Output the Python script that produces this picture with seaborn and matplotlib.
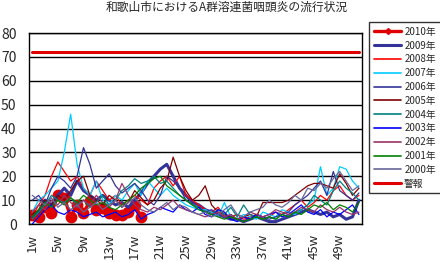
import numpy as np
import matplotlib
matplotlib.use("Agg")
import matplotlib.pyplot as plt
import seaborn as sns
from matplotlib.lines import Line2D

# Weekly report counts per sentinel, Wakayama city
weeks = list(range(1, 53))
tick_weeks = list(range(1, 53, 4))
tick_labels = [f"{w}w" for w in tick_weeks]

y2010 = [3.7, 3, 7, 4.7, 12, 11, 3, 8, 4.7, 9.5, 6, 6.5, 4.5, 3.7, 3.7, 5, 8, 3]
y2009 = [3, 5, 10, 8, 12, 15, 12, 18, 14, 12, 10, 12, 10, 8, 9, 7, 10, 13, 17, 20,
         23, 25, 20, 15, 12, 9, 8, 6, 5, 4, 3, 2, 2, 1, 2, 3, 2, 1, 1, 2,
         3, 4, 5, 6, 5, 4, 5, 3, 4, 2, 3, 10]
y2008 = [3, 8, 12, 20, 26, 22, 18, 20, 15, 12, 18, 14, 10, 12, 8, 10, 12, 10, 8, 15,
         18, 20, 16, 20, 12, 10, 8, 6, 5, 7, 4, 3, 4, 2, 3, 4, 2, 3, 5, 4,
         6, 8, 10, 7, 9, 12, 10, 14, 16, 12, 10, 12]
y2007 = [5, 10, 12, 15, 18, 30, 46, 25, 15, 12, 18, 10, 8, 12, 10, 14, 17, 12, 18, 15,
         12, 15, 12, 10, 8, 7, 6, 6, 5, 3, 9, 3, 2, 4, 3, 2, 5, 4, 3, 6,
         5, 4, 6, 8, 10, 24, 12, 15, 24, 23, 18, 15]
y2006 = [10, 12, 8, 15, 20, 18, 15, 20, 32, 25, 15, 18, 21, 16, 13, 15, 17, 14, 10, 8,
         12, 20, 18, 15, 10, 8, 7, 5, 6, 4, 3, 4, 2, 3, 2, 4, 3, 2, 3, 4,
         5, 8, 10, 12, 15, 18, 12, 22, 14, 12, 10, 13]
y2005 = [4, 6, 10, 8, 12, 10, 14, 18, 20, 12, 10, 8, 12, 10, 7, 9, 14, 11, 8, 10,
         15, 18, 28, 20, 14, 10, 12, 16, 8, 5, 4, 3, 2, 3, 4, 3, 9, 9, 9, 9,
         10, 12, 14, 16, 17, 17, 16, 15, 21, 17, 12, 15]
y2004 = [2, 5, 8, 12, 10, 9, 11, 8, 10, 7, 9, 12, 8, 10, 14, 16, 19, 17, 18, 20,
         17, 18, 15, 12, 10, 8, 7, 5, 4, 6, 4, 7, 3, 8, 4, 3, 2, 3, 2, 4,
         3, 5, 6, 8, 12, 10, 8, 14, 18, 15, 13, 10]
y2003 = [0, 3, 6, 8, 5, 4, 6, 5, 3, 4, 5, 3, 4, 5, 3, 4, 6, 2, 4, 5,
         7, 6, 5, 8, 6, 5, 7, 4, 3, 6, 5, 2, 1, 3, 2, 4, 3, 4, 5, 3,
         4, 6, 8, 5, 4, 6, 3, 5, 4, 6, 8, 4]
y2002 = [5, 8, 6, 10, 8, 12, 9, 7, 10, 8, 12, 9, 7, 10, 17, 12, 8, 6, 5, 7,
         6, 8, 10, 7, 6, 5, 4, 3, 4, 5, 3, 4, 2, 3, 5, 4, 3, 4, 6, 5,
         4, 5, 7, 6, 5, 8, 6, 5, 7, 5, 4, 5]
y2001 = [3, 6, 9, 7, 10, 8, 11, 9, 12, 10, 8, 9, 7, 6, 8, 10, 12, 15, 17, 19,
         20, 16, 14, 12, 10, 8, 6, 5, 4, 3, 2, 3, 2, 1, 2, 3, 2, 3, 2, 4,
         3, 5, 4, 6, 8, 7, 9, 6, 8, 7, 5, 9]
y2000 = [12, 10, 8, 11, 7, 9, 6, 8, 5, 7, 9, 6, 8, 10, 7, 9, 11, 8, 6, 5,
         7, 9, 6, 8, 7, 5, 4, 5, 3, 4, 6, 8, 4, 3, 5, 6, 7, 10, 8, 7,
         9, 12, 10, 15, 14, 17, 15, 19, 22, 18, 14, 16]
alarm = [72] * 52

series = [
    ("2010年", y2010, "#E00000", 2.4, "o"),
    ("2009年", y2009, "#333399", 2.2, None),
    ("2008年", y2008, "#FF0000", 0.9, None),
    ("2007年", y2007, "#00CCFF", 0.9, None),
    ("2006年", y2006, "#333399", 0.9, None),
    ("2005年", y2005, "#800000", 0.9, None),
    ("2004年", y2004, "#008080", 0.9, None),
    ("2003年", y2003, "#0000FF", 0.9, None),
    ("2002年", y2002, "#993366", 0.9, None),
    ("2001年", y2001, "#008000", 0.9, None),
    ("2000年", y2000, "#666699", 0.9, None),
    ("警報", alarm, "#E00000", 2.2, None),
]

sns.set_style("white")
plt.rcParams["font.family"] = ["Noto Sans CJK JP", "DejaVu Sans"]

fig, ax = plt.subplots(figsize=(4.4, 2.62), dpi=100)
fig.subplots_adjust(left=0.066, right=0.823, top=0.874, bottom=0.145)

handles = []
for i, (label, vals, color, lw, marker) in enumerate(series):
    x = weeks[:len(vals)]
    sns.lineplot(x=x, y=vals, ax=ax, color=color, lw=lw, marker=marker,
                 markersize=8.5 if marker else 0, markeredgewidth=0,
                 legend=False, zorder=2 + i)
    handles.append(Line2D([], [], color=color, lw=lw if lw > 1 else 1.2,
                          marker="D" if marker else None, markersize=3))

ax.set_xlim(0.5, 52.5)
ax.set_ylim(0, 80)
ax.set_yticks(range(0, 81, 10))
ax.yaxis.grid(True, color="black", lw=1)
ax.set_axisbelow(True)
ax.set_xticks(tick_weeks)
ax.set_xticklabels(tick_labels, rotation=90, fontsize=9.5)
ax.set_xticks(np.arange(0.5, 53, 1), minor=True)
ax.tick_params(axis="x", which="major", length=0, pad=7)
ax.tick_params(axis="x", which="minor", direction="in", length=3, width=0.8, color="black")
ax.tick_params(axis="y", length=0, pad=9, labelsize=10)
ax.set_xlabel("")
ax.set_ylabel("")
for sp in ax.spines.values():
    sp.set_color("black")
    sp.set_linewidth(1)

fig.text(0.516, 0.995, "和歌山市におけるA群溶連菌咽頭炎の流行状況",
         ha="center", va="top", fontsize=8.5)

leg = fig.legend(handles, [s[0] for s in series], loc="upper left",
                 bbox_to_anchor=(0.839, 0.916), fontsize=7, frameon=True,
                 fancybox=False, edgecolor="black", handlelength=2.8,
                 handletextpad=0.3, labelspacing=0.39, borderpad=0.5,
                 borderaxespad=0)
leg.get_frame().set_linewidth(1)

fig.savefig("out.png", dpi=100)
